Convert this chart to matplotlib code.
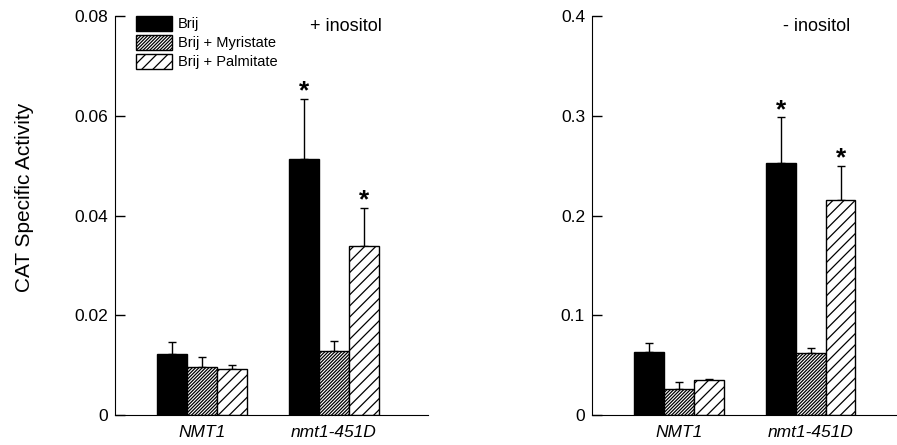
import numpy as np
import matplotlib
matplotlib.use("Agg")
import matplotlib.pyplot as plt
from matplotlib.patches import Patch

plt.rcParams["font.family"] = ["Liberation Sans", "DejaVu Sans"]
plt.rcParams["hatch.linewidth"] = 0.9

strains = ["NMT1", "nmt1-451D"]
series = ["Brij", "Brij + Myristate", "Brij + Palmitate"]

# + inositol
plus_vals = [[0.0123, 0.0513], [0.0097, 0.0129], [0.0092, 0.0339]]
plus_err = [[0.0024, 0.0121], [0.0020, 0.0020], [0.0008, 0.0077]]
plus_star = [[False, True], [False, False], [False, True]]

# - inositol
minus_vals = [[0.0635, 0.2523], [0.0260, 0.0618], [0.0351, 0.2155]]
minus_err = [[0.0084, 0.0461], [0.0074, 0.0050], [0.0010, 0.0344]]
minus_star = [[False, True], [False, False], [False, True]]

colors = ["black", "white", "white"]
hatches = [None, "//////////", "///"]


def draw_panel(ax, vals, errs, stars, ymax, ticks, ticklabels, xmax, note, note_x):
    x = np.arange(len(strains))
    w = 0.225
    for i in range(len(series)):
        xpos = x + (i - 1) * w
        ax.bar(xpos, vals[i], w, color=colors[i], edgecolor="black",
               hatch=hatches[i], linewidth=1.0, zorder=2)
        ax.errorbar(xpos, vals[i], yerr=[np.zeros(len(strains)), errs[i]],
                    fmt="none", ecolor="black", elinewidth=1.0, capsize=3,
                    capthick=1.0, zorder=1)
        for j in range(len(strains)):
            if stars[i][j]:
                ax.annotate("*", (xpos[j], vals[i][j] + errs[i][j]),
                            xytext=(0, 0), textcoords="offset points",
                            ha="center", va="baseline", fontsize=19,
                            fontweight="bold")
    ax.set_xlim(-0.659, xmax)
    ax.set_ylim(0, ymax)
    ax.set_yticks(ticks)
    ax.set_yticklabels(ticklabels, fontsize=12.5)
    ax.set_xticks(x)
    ax.set_xticklabels(strains, fontsize=12.5, style="italic")
    ax.tick_params(axis="y", direction="in", length=7, width=1, pad=5)
    ax.tick_params(axis="x", length=0, pad=7)
    for s in ["top", "right"]:
        ax.spines[s].set_visible(False)
    ax.text(note_x, ymax * 0.995, note, fontsize=13, ha="center", va="top")


fig = plt.figure(figsize=(8.97, 4.45), dpi=100)
ax1 = fig.add_axes([0.1282, 0.0674, 0.3489, 0.8966])
ax2 = fig.add_axes([0.66, 0.0674, 0.34, 0.8966])

draw_panel(ax1, plus_vals, plus_err, plus_star, 0.08,
           [0, 0.02, 0.04, 0.06, 0.08], ["0", "0.02", "0.04", "0.06", "0.08"],
           1.712, "+ inositol", 1.09)
draw_panel(ax2, minus_vals, minus_err, minus_star, 0.4,
           [0, 0.1, 0.2, 0.3, 0.4], ["0", "0.1", "0.2", "0.3", "0.4"],
           1.652, "- inositol", 1.045)

ax1.set_ylabel("CAT Specific Activity", fontsize=15)
ax1.yaxis.set_label_coords(-0.258, 0.545)

handles = [Patch(facecolor=colors[i], edgecolor="black", hatch=hatches[i])
           for i in range(len(series))]
ax1.legend(handles, series, loc="upper left", bbox_to_anchor=(0.067, 1.0),
           frameon=False, fontsize=10.5, handlelength=2.5, handleheight=1.2,
           labelspacing=0.25, handletextpad=0.35, borderaxespad=0,
           borderpad=0)

fig.savefig("out.png", dpi=100)
